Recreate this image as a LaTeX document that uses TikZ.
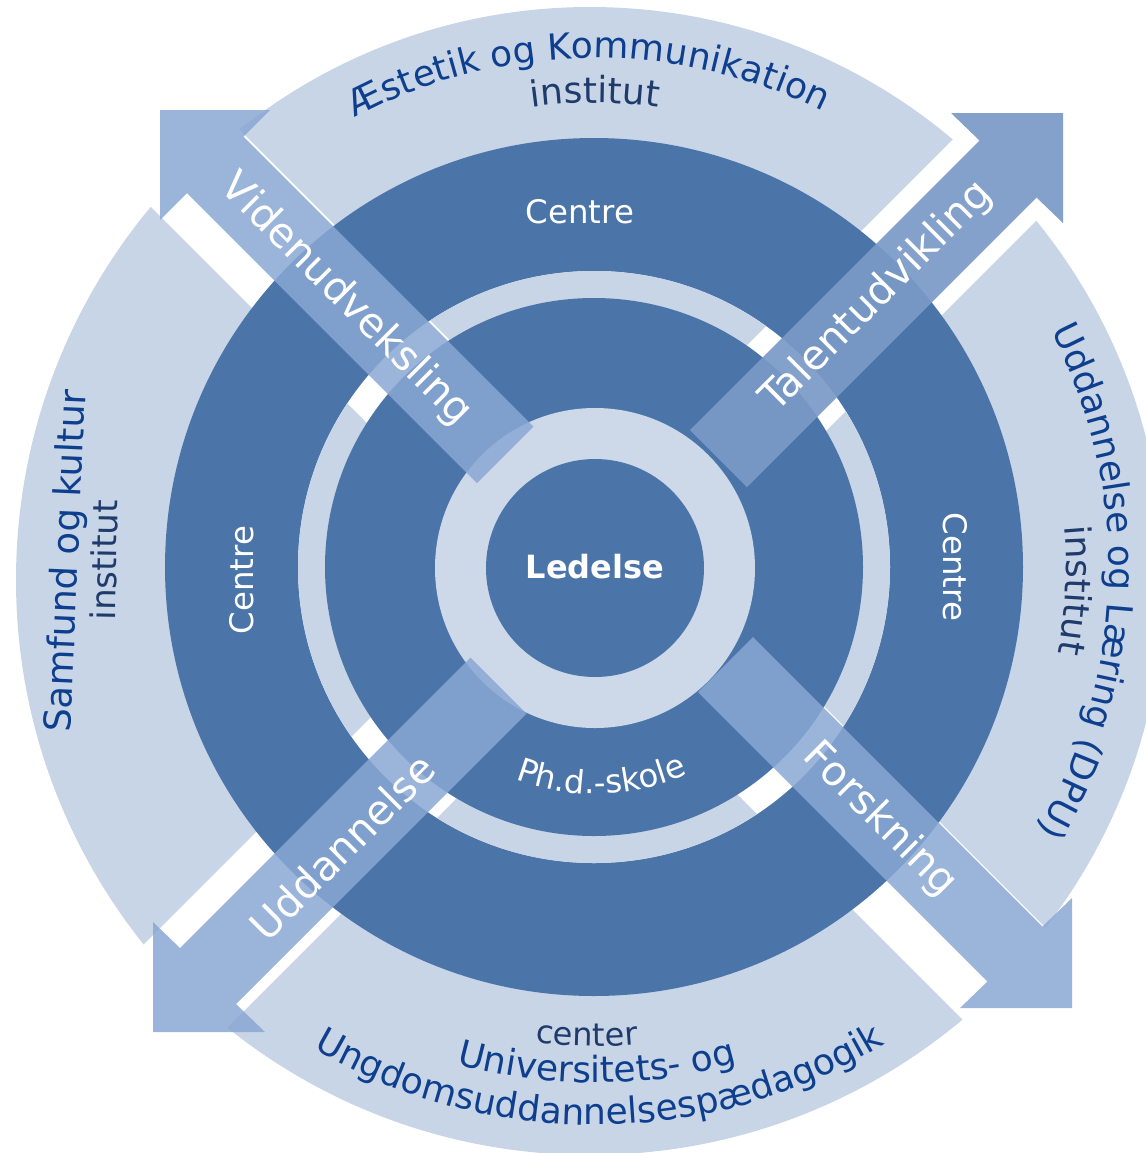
\documentclass[tikz,border=0pt]{standalone}
\usepackage{fontspec}
\setmainfont{DejaVu Sans}
\usetikzlibrary{decorations.text}
\definecolor{darkb}{HTML}{4B75A9}
\definecolor{lightseg}{HTML}{C8D5E7}
\definecolor{ringl}{HTML}{CDD9E9}
\definecolor{arrowc}{HTML}{89A7D4}
\definecolor{arrowd}{HTML}{7A9AC6}
\definecolor{navy}{HTML}{0E3F8E}
\definecolor{slate}{HTML}{1E3B6B}
\newcommand\fOuter{\fontsize{18}{20}\selectfont}
\newcommand\fArrow{\fontsize{20.5}{23}\selectfont}
\newcommand\fCentre{\fontsize{16.2}{18}\selectfont}
\tikzset{
  arctext/.style={decorate, decoration={text along path, text align=center, text={#1}}},
  arrowlabel/.style={text=white, font=\fArrow, inner sep=0pt},
  centrelabel/.style={text=white, font=\fCentre, inner sep=0pt},
  arrowfill/.style={fill=arrowc, fill opacity=0.85},
}
\begin{document}
\begin{tikzpicture}[x=0.5pt,y=0.5pt]
\useasboundingbox (0,0) rectangle (1146,-1153);
\clip (0,0) rectangle (1146,-1153);

% ---- outer light segments ----
\begin{scope}
  \clip (601,-491) -- (-490,600) -- (1692,600) -- cycle;
  \fill[lightseg] (590,-570) circle[radius=563];
\end{scope}
\begin{scope}
  \clip (687.5,-569.5) -- (1787.5,530.5) -- (1787.5,-1669.5) -- cycle;
  \fill[lightseg] (595,-580) circle[radius=569];
\end{scope}
\begin{scope}
  \clip (599,-656) -- (-501,-1756) -- (1699,-1756) -- cycle;
  \fill[lightseg] (590,-575) circle[radius=580];
\end{scope}
\begin{scope}
  \clip (516,-572) -- (-584,528) -- (-584,-1672) -- cycle;
  \fill[lightseg] (600,-580) circle[radius=584];
\end{scope}

% ---- dark ring ----
\fill[darkb] (594,-567) circle[radius=429];

% ---- thin light ring, cut into four by white gaps ----
\fill[white] (594,-567) circle[radius=296];
\begin{scope}
  \clip (601,-491) -- (-490,600) -- (1692,600) -- cycle;
  \fill[lightseg] (594,-567) circle[radius=296];
\end{scope}
\begin{scope}
  \clip (687.5,-569.5) -- (1787.5,530.5) -- (1787.5,-1669.5) -- cycle;
  \fill[lightseg] (594,-567) circle[radius=296];
\end{scope}
\begin{scope}
  \clip (599,-656) -- (-501,-1756) -- (1699,-1756) -- cycle;
  \fill[lightseg] (594,-567) circle[radius=296];
\end{scope}
\begin{scope}
  \clip (516,-572) -- (-584,528) -- (-584,-1672) -- cycle;
  \fill[lightseg] (594,-567) circle[radius=296];
\end{scope}
\fill[darkb] (594,-567) circle[radius=269];

% ---- centre ----
\fill[ringl] (595,-568) circle[radius=160];
\fill[darkb] (595,-568) circle[radius=109];

% ---- arrows ----
\fill[arrowfill] (160,-110) -- (270,-110) -- (243.5,-136.5) -- (533.5,-426.5) -- (477,-483) -- (187,-193) -- (160,-220) -- cycle;
\fill[fill=arrowd, fill opacity=0.93] (1063,-113) -- (1063,-223) -- (1036.5,-197.5) -- (747,-487) -- (690,-430) -- (979.5,-140.5) -- (951,-113) -- cycle;
\fill[arrowfill] (153,-1032) -- (153,-922) -- (180,-948) -- (470.5,-657.5) -- (526.5,-713.5) -- (236,-1004) -- (265,-1032) -- cycle;
\fill[arrowfill] (1072,-1008) -- (960,-1008) -- (987.5,-981.5) -- (698,-692) -- (753,-637) -- (1042.5,-926.5) -- (1072,-898) -- cycle;

% ---- arrow labels ----
\node[arrowlabel, rotate=-45] (vid) at (346,-300) {Videnudveksling};
\node[arrowlabel, rotate=45] (tal) at (877,-297) {Talentudvikling};
\node[arrowlabel, rotate=45] (udd) at (342,-847) {Uddannelse};
\node[arrowlabel, rotate=-45] (for) at (880,-820) {Forskning};

% ---- inner labels ----
\node[text=white, font=\bfseries\fontsize{16}{18}\selectfont, inner sep=0pt] (led) at (595,-567) {Ledelse};
\node[centrelabel] (ctop) at (580,-212) {Centre};
\node[centrelabel, rotate=90] (cleft) at (242,-580) {Centre};
\node[centrelabel, rotate=-90] (cright) at (955,-567) {Centre};
\path[arctext={|\fCentre\color{white}|Ph.d.-skole}] ([shift={(595,-568)}]225:226) arc[start angle=225, end angle=318.6, radius=226];

% ---- outer labels ----
\path[arctext={|\fOuter\color{navy}|Æstetik og Kommunikation}] ([shift={(595,-568)}]135.75:510) arc[start angle=135.75, end angle=45.75, radius=510];
\path[arctext={|\fOuter\color{slate}|institut}] ([shift={(595,-568)}]135:465) arc[start angle=135, end angle=45, radius=465];

\node[text=navy, font=\fontsize{18.5}{20}\selectfont, inner sep=0pt, rotate=87.5] (samf) at (68,-561) {Samfund og kultur};
\node[text=slate, font=\fontsize{17}{19}\selectfont, inner sep=0pt, rotate=89] (sinst) at (104,-560) {institut};

\path[arctext={|\fOuter\color{navy}|Uddannelse og Læring (DPU)}] ([shift={(595,-568)}]43.4:514) arc[start angle=43.4, end angle=-46.6, radius=514];
\path[arctext={|\fOuter\color{slate}|institut}] ([shift={(595,-568)}]42.3:471) arc[start angle=42.3, end angle=-47.7, radius=471];

\path[arctext={|\fOuter\color{navy}|Ungdomsuddannelsespædagogik}] ([shift={(595,-568)}]225.5:557) arc[start angle=225.5, end angle=315.5, radius=557];
\path[arctext={|\fOuter\color{navy}|Universitets- og}] ([shift={(595,-568)}]225.2:515) arc[start angle=225.2, end angle=315.2, radius=515];
\path[arctext={|\fontsize{16}{18}\selectfont\color{slate}|center}] ([shift={(595,-568)}]224:478) arc[start angle=224, end angle=314, radius=478];
\end{tikzpicture}
\end{document}
